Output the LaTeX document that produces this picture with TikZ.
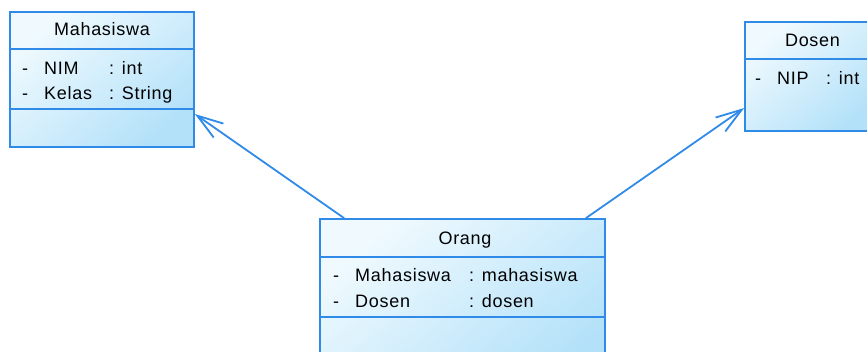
\documentclass[tikz,border=0pt]{standalone}
\usepackage{fontspec}
\setmainfont{Liberation Sans}[LetterSpace=4]
\usetikzlibrary{arrows.meta}
\definecolor{UML1}{HTML}{2F8AE8}
\definecolor{UML2}{HTML}{F0FAFE}
\definecolor{UML3}{HTML}{B3E1F9}
\tikzstyle{classbox} = [rectangle, inner sep=0pt, draw=UML1, line width=1.7pt, top color=UML2, bottom color=UML3, shading angle=40]
\tikzstyle{divider} = [draw=UML1, line width=1.7pt]
\tikzstyle{title} = [inner sep=0pt, anchor=base, font=\fontsize{18}{21}\selectfont]
\tikzstyle{attr} = [inner sep=0pt, anchor=base west, font=\fontsize{18}{21}\selectfont]
\tikzstyle{arrow} = [draw=UML1, line width=1.8pt, -{Straight Barb[length=26pt, width=17pt, line width=1.8pt]}]

\begin{document}
\begin{tikzpicture}[x=1pt, y=-1pt]

\useasboundingbox (0,0) rectangle (867,351);
\clip (0,0) rectangle (867,351);

% class boxes
\node (mahasiswa) [classbox, minimum width=184pt, minimum height=135pt] at (102,79.5) {};
\node (dosen) [classbox, minimum width=134pt, minimum height=109pt] at (812,76.5) {};
\node (orang) [classbox, minimum width=285pt, minimum height=170pt] at (462.5,304) {};

\draw [divider] ([yshift=-38pt]mahasiswa.north west) -- ([yshift=-38pt]mahasiswa.north east);
\draw [divider] ([yshift=-98pt]mahasiswa.north west) -- ([yshift=-98pt]mahasiswa.north east);
\draw [divider] ([yshift=-38pt]dosen.north west) -- ([yshift=-38pt]dosen.north east);
\draw [divider] ([yshift=-39pt]orang.north west) -- ([yshift=-39pt]orang.north east);
\draw [divider] ([yshift=-99pt]orang.north west) -- ([yshift=-99pt]orang.north east);

% Mahasiswa
\node (mhsname) [title] at (102,35) {Mahasiswa};
\node (mhsd1) [attr] at (22,74) {-};
\node (mhsa1) [attr] at (44,74) {NIM};
\node (mhst1) [attr] at (109,74) {: int};
\node (mhsd2) [attr] at (22,99.5) {-};
\node (mhsa2) [attr] at (44,99.5) {Kelas};
\node (mhst2) [attr] at (109,99.5) {: String};

% Dosen
\node (dsnname) [title] at (812.5,46) {Dosen};
\node (dsnd1) [attr] at (755,84) {-};
\node (dsna1) [attr] at (777,84) {NIP};
\node (dsnt1) [attr] at (826,84) {: int};

% Orang
\node (orgname) [title] at (465,244) {Orang};
\node (orgd1) [attr] at (333,281.5) {-};
\node (orga1) [attr] at (355,281.5) {Mahasiswa};
\node (orgt1) [attr] at (469,281.5) {: mahasiswa};
\node (orgd2) [attr] at (333,307) {-};
\node (orga2) [attr] at (355,307) {Dosen};
\node (orgt2) [attr] at (469,307) {: dosen};

\draw [arrow] ([xshift=25pt]orang.north west) -- ([yshift=-34.5pt]mahasiswa.east);
\draw [arrow] ([xshift=-20pt]orang.north east) -- ([yshift=-31.5pt]dosen.west);

\end{tikzpicture}
\end{document}
